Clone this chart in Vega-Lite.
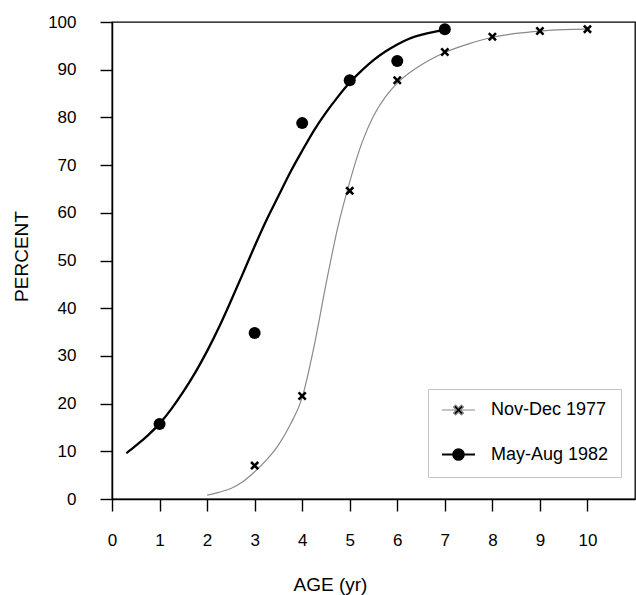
{
  "$schema": "https://vega.github.io/schema/vega-lite/v6.json",
  "autosize": {"type": "none"},
  "padding": {"left": 112, "top": 22, "right": 1, "bottom": 96},
  "width": 523,
  "height": 477,
  "background": "white",
  "datasets": {
    "curves": [
      {"series": "Nov-Dec 1977", "age": 2.0, "pct": 0.8},
      {"series": "Nov-Dec 1977", "age": 2.25, "pct": 1.4},
      {"series": "Nov-Dec 1977", "age": 2.5, "pct": 2.2},
      {"series": "Nov-Dec 1977", "age": 2.75, "pct": 3.6},
      {"series": "Nov-Dec 1977", "age": 3.0, "pct": 5.7},
      {"series": "Nov-Dec 1977", "age": 3.25, "pct": 8.2},
      {"series": "Nov-Dec 1977", "age": 3.5, "pct": 11.3},
      {"series": "Nov-Dec 1977", "age": 3.75, "pct": 15.6},
      {"series": "Nov-Dec 1977", "age": 4.0, "pct": 21.3},
      {"series": "Nov-Dec 1977", "age": 4.25, "pct": 32.0},
      {"series": "Nov-Dec 1977", "age": 4.5, "pct": 45.0},
      {"series": "Nov-Dec 1977", "age": 4.75, "pct": 57.0},
      {"series": "Nov-Dec 1977", "age": 5.0, "pct": 66.5},
      {"series": "Nov-Dec 1977", "age": 5.25, "pct": 74.5},
      {"series": "Nov-Dec 1977", "age": 5.5, "pct": 80.3},
      {"series": "Nov-Dec 1977", "age": 5.75, "pct": 84.3},
      {"series": "Nov-Dec 1977", "age": 6.0, "pct": 87.2},
      {"series": "Nov-Dec 1977", "age": 6.25, "pct": 89.3},
      {"series": "Nov-Dec 1977", "age": 6.5, "pct": 91.0},
      {"series": "Nov-Dec 1977", "age": 6.75, "pct": 92.4},
      {"series": "Nov-Dec 1977", "age": 7.0, "pct": 93.6},
      {"series": "Nov-Dec 1977", "age": 7.5, "pct": 95.4},
      {"series": "Nov-Dec 1977", "age": 8.0, "pct": 96.8},
      {"series": "Nov-Dec 1977", "age": 8.5, "pct": 97.6},
      {"series": "Nov-Dec 1977", "age": 9.0, "pct": 98.1},
      {"series": "Nov-Dec 1977", "age": 9.5, "pct": 98.4},
      {"series": "Nov-Dec 1977", "age": 10.0, "pct": 98.5},
      {"series": "May-Aug 1982", "age": 0.3, "pct": 9.6},
      {"series": "May-Aug 1982", "age": 0.5, "pct": 11.2},
      {"series": "May-Aug 1982", "age": 0.75, "pct": 13.3},
      {"series": "May-Aug 1982", "age": 1.0, "pct": 15.8},
      {"series": "May-Aug 1982", "age": 1.25, "pct": 18.9},
      {"series": "May-Aug 1982", "age": 1.5, "pct": 22.5},
      {"series": "May-Aug 1982", "age": 1.75, "pct": 26.5},
      {"series": "May-Aug 1982", "age": 2.0, "pct": 31.0},
      {"series": "May-Aug 1982", "age": 2.25, "pct": 36.0},
      {"series": "May-Aug 1982", "age": 2.5, "pct": 41.5},
      {"series": "May-Aug 1982", "age": 2.75, "pct": 47.2},
      {"series": "May-Aug 1982", "age": 3.0, "pct": 53.0},
      {"series": "May-Aug 1982", "age": 3.25, "pct": 58.5},
      {"series": "May-Aug 1982", "age": 3.5, "pct": 63.5},
      {"series": "May-Aug 1982", "age": 3.75, "pct": 68.5},
      {"series": "May-Aug 1982", "age": 4.0, "pct": 73.0},
      {"series": "May-Aug 1982", "age": 4.25, "pct": 77.3},
      {"series": "May-Aug 1982", "age": 4.5, "pct": 81.0},
      {"series": "May-Aug 1982", "age": 4.75, "pct": 84.3},
      {"series": "May-Aug 1982", "age": 5.0, "pct": 87.3},
      {"series": "May-Aug 1982", "age": 5.25, "pct": 89.8},
      {"series": "May-Aug 1982", "age": 5.5, "pct": 92.0},
      {"series": "May-Aug 1982", "age": 5.75, "pct": 93.8},
      {"series": "May-Aug 1982", "age": 6.0, "pct": 95.3},
      {"series": "May-Aug 1982", "age": 6.25, "pct": 96.5},
      {"series": "May-Aug 1982", "age": 6.5, "pct": 97.3},
      {"series": "May-Aug 1982", "age": 6.75, "pct": 97.9},
      {"series": "May-Aug 1982", "age": 7.0, "pct": 98.3}
    ],
    "observed": [
      {"series": "Nov-Dec 1977", "age": 3, "pct": 7.0},
      {"series": "Nov-Dec 1977", "age": 4, "pct": 21.6},
      {"series": "Nov-Dec 1977", "age": 5, "pct": 64.6},
      {"series": "Nov-Dec 1977", "age": 6, "pct": 87.8},
      {"series": "Nov-Dec 1977", "age": 7, "pct": 93.7},
      {"series": "Nov-Dec 1977", "age": 8, "pct": 96.9},
      {"series": "Nov-Dec 1977", "age": 9, "pct": 98.1},
      {"series": "Nov-Dec 1977", "age": 10, "pct": 98.5},
      {"series": "May-Aug 1982", "age": 1, "pct": 15.7},
      {"series": "May-Aug 1982", "age": 3, "pct": 34.8},
      {"series": "May-Aug 1982", "age": 4, "pct": 78.8},
      {"series": "May-Aug 1982", "age": 5, "pct": 87.8},
      {"series": "May-Aug 1982", "age": 6, "pct": 91.8},
      {"series": "May-Aug 1982", "age": 7, "pct": 98.5}
    ]
  },
  "encoding": {
    "x": {
      "field": "age",
      "type": "quantitative",
      "scale": {"domain": [0, 11], "nice": false, "zero": false},
      "axis": {
        "title": "AGE (yr)",
        "values": [0, 1, 2, 3, 4, 5, 6, 7, 8, 9, 10],
        "grid": false,
        "tickSize": 12,
        "labelPadding": 21,
        "labelFlush": false,
        "titleX": 218,
        "titleY": 91,
        "titleAlign": "center",
        "titleBaseline": "alphabetic",
        "titleAnchor": null
      }
    },
    "y": {
      "field": "pct",
      "type": "quantitative",
      "scale": {"domain": [0, 100], "nice": false},
      "axis": {
        "title": "PERCENT",
        "values": [0, 10, 20, 30, 40, 50, 60, 70, 80, 90, 100],
        "grid": false,
        "tickSize": 12,
        "labelPadding": 24,
        "labelFlush": false,
        "titleAngle": -90,
        "titleX": -91,
        "titleY": 234,
        "titleAlign": "center",
        "titleBaseline": "middle",
        "titleAnchor": null
      }
    }
  },
  "layer": [
    {
      "data": {"name": "curves"},
      "transform": [{"filter": "datum.series === 'Nov-Dec 1977'"}],
      "mark": {"type": "line", "interpolate": "monotone", "color": "#8a8a8a", "strokeWidth": 1.2},
      "encoding": {}
    },
    {
      "data": {"name": "curves"},
      "transform": [{"filter": "datum.series === 'May-Aug 1982'"}],
      "mark": {"type": "line", "interpolate": "monotone", "color": "black", "strokeWidth": 2.3},
      "encoding": {}
    },
    {
      "data": {"name": "observed"},
      "transform": [{"filter": "datum.series === 'Nov-Dec 1977'"}],
      "mark": {
        "type": "point",
        "shape": "M-1,-0.6L-0.6,-1L0,-0.4L0.6,-1L1,-0.6L0.4,0L1,0.6L0.6,1L0,0.4L-0.6,1L-1,0.6L-0.4,0Z",
        "filled": true,
        "fill": "black",
        "opacity": 1,
        "strokeWidth": 0,
        "size": 81
      },
      "encoding": {}
    },
    {
      "data": {"name": "observed"},
      "transform": [{"filter": "datum.series === 'May-Aug 1982'"}],
      "mark": {
        "type": "point",
        "shape": "circle",
        "filled": true,
        "fill": "black",
        "opacity": 1,
        "strokeWidth": 0,
        "size": 144
      },
      "encoding": {}
    },
    {
      "description": "Key: carries the series scales only, so no rows are drawn",
      "data": {"name": "observed"},
      "transform": [{"filter": "false"}],
      "mark": {"type": "point", "filled": true, "fill": "black", "opacity": 1, "size": 256},
      "encoding": {
        "shape": {
          "field": "series",
          "type": "nominal",
          "scale": {
            "domain": ["Nov-Dec 1977", "May-Aug 1982"],
            "range": [
              "M-2.06,0H-0.25M0.25,0H2.06M-0.62,-0.37L-0.37,-0.62L0,-0.25L0.37,-0.62L0.62,-0.37L0.25,0L0.62,0.37L0.37,0.62L0,0.25L-0.37,0.62L-0.62,0.37L-0.25,0Z",
              "M-2.06,0H2.06M0.65,0A0.65,0.65,0,1,1,-0.65,0A0.65,0.65,0,1,1,0.65,0Z"
            ]
          },
          "legend": {
            "title": null,
            "orient": "none",
            "legendX": 316,
            "legendY": 367,
            "direction": "vertical",
            "padding": 12,
            "rowPadding": 25,
            "symbolSize": 256,
            "symbolOffset": 9,
            "labelOffset": 23,
            "labelFont": "Liberation Sans",
            "labelFontSize": 18,
            "labelColor": "black",
            "labelLimit": 300,
            "strokeColor": "#c4c4c4"
          }
        },
        "stroke": {
          "field": "series",
          "type": "nominal",
          "scale": {"domain": ["Nov-Dec 1977", "May-Aug 1982"], "range": ["#8a8a8a", "#000000"]},
          "legend": {
            "title": null,
            "orient": "none",
            "legendX": 316,
            "legendY": 367,
            "direction": "vertical",
            "padding": 12,
            "rowPadding": 25,
            "symbolSize": 256,
            "symbolOffset": 9,
            "labelOffset": 23,
            "labelFont": "Liberation Sans",
            "labelFontSize": 18,
            "labelColor": "black",
            "labelLimit": 300,
            "strokeColor": "#c4c4c4"
          }
        },
        "strokeWidth": {
          "field": "series",
          "type": "nominal",
          "scale": {"domain": ["Nov-Dec 1977", "May-Aug 1982"], "range": [1.2, 2.2]},
          "legend": {
            "title": null,
            "orient": "none",
            "legendX": 316,
            "legendY": 367,
            "direction": "vertical",
            "padding": 12,
            "rowPadding": 25,
            "symbolSize": 256,
            "symbolOffset": 9,
            "labelOffset": 23,
            "labelFont": "Liberation Sans",
            "labelFontSize": 18,
            "labelColor": "black",
            "labelLimit": 300,
            "strokeColor": "#c4c4c4"
          }
        }
      }
    }
  ],
  "config": {
    "view": {"stroke": "black", "strokeWidth": 1.3},
    "font": "Liberation Sans",
    "axis": {
      "domainColor": "black",
      "domainWidth": 1.5,
      "tickColor": "black",
      "tickWidth": 1.4,
      "labelFont": "Liberation Sans",
      "labelFontSize": 17,
      "labelColor": "black",
      "titleFont": "Liberation Sans",
      "titleFontSize": 19,
      "titleFontWeight": "normal",
      "titleColor": "black"
    }
  }
}
